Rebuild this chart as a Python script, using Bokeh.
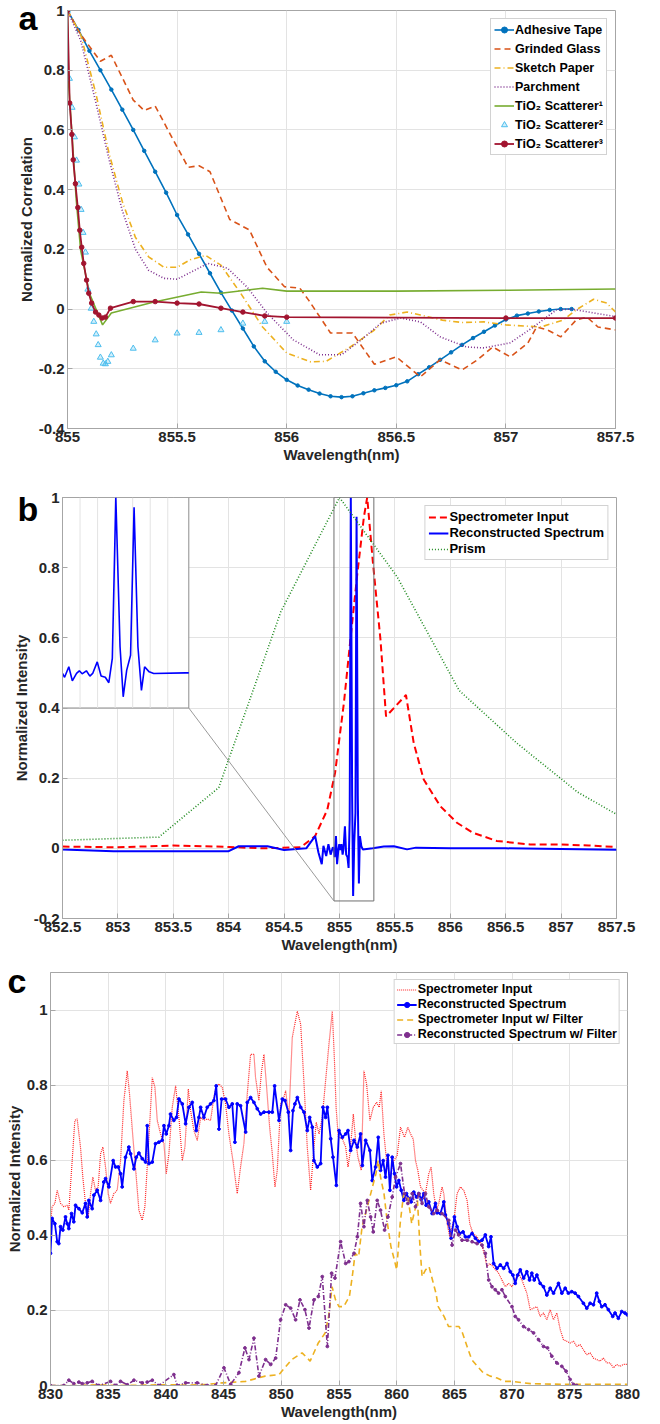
from bokeh.plotting import figure
from bokeh.models import Range1d, Legend, LegendItem, FixedTicker, CustomJSTickFormatter
from bokeh.layouts import column, row
from bokeh.embed import file_html
from bokeh.resources import INLINE

# ---------------------------------------------------------------- panel a data
TAPE_X = [855.00, 855.05, 855.10, 855.15, 855.20, 855.25, 855.30, 855.35, 855.40, 855.45,
          855.50, 855.55, 855.60, 855.65, 855.70, 855.75, 855.80, 855.85, 855.90, 855.95,
          856.00, 856.05, 856.10, 856.15, 856.20, 856.25, 856.30, 856.35, 856.40, 856.45,
          856.50, 856.55, 856.60, 856.65, 856.70, 856.75, 856.80, 856.85, 856.90, 856.95,
          857.00, 857.05, 857.10, 857.15, 857.20, 857.25, 857.30]
TAPE_Y = [1.000, 0.935, 0.865, 0.800, 0.735, 0.668, 0.600, 0.530, 0.460, 0.390,
          0.315, 0.250, 0.185, 0.120, 0.055, -0.005, -0.065, -0.125, -0.175, -0.210,
          -0.237, -0.256, -0.270, -0.283, -0.292, -0.295, -0.292, -0.282, -0.272, -0.264,
          -0.255, -0.242, -0.218, -0.195, -0.170, -0.145, -0.120, -0.097, -0.076, -0.055,
          -0.035, -0.022, -0.015, -0.008, -0.003, 0.000, 0.000]

GLASS_X = [855.00, 855.06, 855.15, 855.20, 855.30, 855.35, 855.40, 855.48, 855.55, 855.60,
           855.65, 855.74, 855.83, 855.91, 855.99, 856.06, 856.10, 856.20, 856.30, 856.40,
           856.50, 856.61, 856.70, 856.80, 856.87, 856.94, 857.02, 857.10, 857.14, 857.19,
           857.25, 857.32, 857.37, 857.42, 857.50]
GLASS_Y = [1.000, 0.920, 0.830, 0.850, 0.700, 0.665, 0.680, 0.570, 0.475, 0.480,
           0.460, 0.300, 0.265, 0.140, 0.075, 0.070, 0.030, -0.080, -0.080, -0.185,
           -0.160, -0.227, -0.170, -0.204, -0.170, -0.127, -0.160, -0.114, -0.060, -0.070,
           -0.093, -0.037, -0.027, -0.060, -0.070]

SKETCH_X = [855.00, 855.06, 855.13, 855.19, 855.25, 855.31, 855.37, 855.44, 855.50, 855.56,
            855.63, 855.70, 855.79, 855.89, 856.00, 856.11, 856.18, 856.29, 856.40, 856.47,
            856.55, 856.61, 856.71, 856.80, 856.90, 857.00, 857.16, 857.26, 857.32, 857.40,
            857.46, 857.50]
SKETCH_Y = [1.000, 0.920, 0.720, 0.520, 0.360, 0.240, 0.175, 0.140, 0.140, 0.165,
            0.180, 0.147, 0.053, -0.060, -0.147, -0.177, -0.175, -0.127, -0.070, -0.020,
            -0.010, -0.020, -0.037, -0.045, -0.043, -0.053, -0.060, -0.037, -0.003, 0.033,
            0.020, -0.010]

PARCH_X = [855.00, 855.06, 855.13, 855.19, 855.25, 855.31, 855.37, 855.44, 855.50, 855.58,
           855.64, 855.73, 855.82, 855.91, 856.03, 856.15, 856.25, 856.34, 856.43, 856.52,
           856.61, 856.70, 856.82, 856.90, 857.02, 857.12, 857.23, 857.30, 857.40, 857.50]
PARCH_Y = [1.000, 0.900, 0.690, 0.500, 0.330, 0.200, 0.130, 0.103, 0.100, 0.130,
           0.153, 0.137, 0.073, -0.013, -0.103, -0.153, -0.153, -0.103, -0.047, -0.030,
           -0.043, -0.093, -0.127, -0.130, -0.113, -0.063, -0.003, 0.000, -0.013, -0.025]

TIO1_X = [855.00, 855.005, 855.02, 855.04, 855.06, 855.10, 855.16, 855.20, 855.39, 855.61,
          855.70, 855.89, 856.00, 856.50, 857.00, 857.50]
TIO1_Y = [1.000, 0.755, 0.590, 0.365, 0.197, 0.053, -0.053, -0.013, 0.023, 0.057,
          0.053, 0.070, 0.060, 0.060, 0.063, 0.067]

TIO2_X = [855.000, 855.009, 855.021, 855.032, 855.041, 855.052, 855.062, 855.071, 855.082, 855.093,
          855.108, 855.120, 855.131, 855.140, 855.150, 855.163, 855.173, 855.184, 855.200, 855.300,
          855.400, 855.500, 855.600, 855.700, 855.800, 855.900, 856.000]
TIO2_Y = [1.000, 0.772, 0.675, 0.576, 0.498, 0.418, 0.333, 0.256, 0.190, 0.066,
          0.002, -0.042, -0.084, -0.120, -0.162, -0.182, -0.184, -0.176, -0.154, -0.132,
          -0.104, -0.081, -0.079, -0.070, -0.048, -0.042, -0.042]

TIO3_X = [855.000, 855.010, 855.020, 855.026, 855.036, 855.047, 855.056, 855.065, 855.074, 855.087,
          855.097, 855.110, 855.128, 855.143, 855.158, 855.173, 855.196, 855.300, 855.400, 855.500,
          855.600, 855.700, 855.800, 855.900, 856.000, 857.000, 857.500]
TIO3_Y = [1.000, 0.690, 0.585, 0.500, 0.420, 0.340, 0.264, 0.207, 0.153, 0.097,
          0.053, 0.020, -0.010, -0.020, -0.030, -0.027, 0.003, 0.025, 0.025, 0.020,
          0.017, 0.003, -0.010, -0.023, -0.027, -0.030, -0.030]

A_XTICKS = [855, 855.5, 856, 856.5, 857, 857.5]
A_YTICKS = [-0.4, -0.2, 0, 0.2, 0.4, 0.6, 0.8, 1]

# ---------------------------------------------------------------- panel b data
PRISM_X = [852.5, 853.37, 853.91, 854.47, 855.0, 855.52, 856.08, 856.6, 857.15, 857.5]
PRISM_Y = [0.023, 0.032, 0.173, 0.674, 1.000, 0.774, 0.450, 0.300, 0.160, 0.097]

SPEC_X = [852.50, 853.00, 853.50, 854.00, 854.30, 854.65, 854.78, 854.89, 854.96, 855.04,
          855.10, 855.16, 855.22, 855.25, 855.30, 855.37, 855.42, 855.60, 855.67, 855.76,
          855.91, 856.06, 856.20, 856.42, 856.72, 857.00, 857.25, 857.50]
SPEC_Y = [0.005, 0.003, 0.008, 0.004, 0.000, 0.003, 0.035, 0.110, 0.215, 0.415,
          0.600, 0.780, 0.944, 1.000, 0.820, 0.594, 0.376, 0.437, 0.300, 0.196,
          0.120, 0.073, 0.045, 0.021, 0.011, 0.011, 0.008, 0.004]

RECB_X = [852.500, 852.960, 853.500, 854.000, 854.090, 854.350, 854.500, 854.700, 854.780, 854.810,
          854.840, 854.855, 854.880, 854.900, 854.920, 854.940, 854.950, 854.956, 854.968, 854.978,
          854.990, 854.998, 855.006, 855.018, 855.028, 855.036, 855.049, 855.060, 855.072, 855.082,
          855.092, 855.102, 855.114, 855.123, 855.133, 855.144, 855.154, 855.165, 855.175, 855.184,
          855.197, 855.210, 855.300, 855.400, 855.490, 855.610, 855.690, 856.000, 856.500, 857.000,
          857.500]
RECB_Y = [-0.003, -0.008, -0.008, -0.008, 0.006, 0.006, -0.005, 0.000, 0.035, -0.012,
          -0.045, 0.007, -0.022, 0.012, -0.018, 0.003, -0.003, -0.025, 0.035, -0.045,
          -0.003, 0.012, -0.005, 0.012, -0.018, -0.003, 0.063, -0.018, -0.025, -0.056,
          0.083, 1.000, 0.149, -0.136, 0.016, 0.101, 0.945, 0.149, -0.100, 0.035,
          0.006, -0.003, 0.000, 0.005, 0.006, -0.003, 0.002, 0.000, 0.000, -0.002,
          -0.004]

B_XTICKS = [852.5, 853, 853.5, 854, 854.5, 855, 855.5, 856, 856.5, 857, 857.5]
B_YTICKS = [-0.2, 0, 0.2, 0.4, 0.6, 0.8, 1]
INSET_XTICKS = [855.0, 855.05, 855.1, 855.15, 855.2, 855.25]

# ---------------------------------------------------------------- panel c data
CREC_X = [830.00, 830.14, 830.38, 830.58, 830.72, 830.87, 831.07, 831.30, 831.45, 831.59,
          831.82, 832.02, 832.17, 832.46, 832.75, 833.03, 833.18, 833.32, 833.61, 833.76,
          834.05, 834.34, 834.62, 834.77, 835.06, 835.43, 835.64, 835.87, 836.07, 836.21,
          836.50, 836.79, 836.94, 837.23, 837.43, 837.66, 837.95, 838.24, 838.38, 838.53,
          838.82, 839.10, 839.39, 839.68, 839.83, 840.03, 840.26, 840.40, 840.69, 840.92,
          841.13, 841.42, 841.71, 841.99, 842.28, 842.63, 842.86, 843.01, 843.29, 843.58,
          843.87, 844.16, 844.36, 844.60, 844.83, 845.17, 845.46, 845.75, 845.98, 846.18,
          846.47, 846.91, 847.05, 847.34, 847.63, 847.92, 848.21, 848.50, 848.93, 849.22,
          849.42, 849.80, 850.09, 850.32, 850.61, 850.81, 851.01, 851.18, 851.39, 851.68,
          851.97, 852.25, 852.46, 852.69, 852.83, 853.12, 853.41, 853.61, 853.84, 853.99,
          854.28, 854.48, 854.77, 855.00, 855.29, 855.58, 855.78, 856.01, 856.30, 856.59,
          856.87, 857.02, 857.31, 857.68, 857.88, 858.17, 858.40, 858.60, 858.83, 859.03,
          859.24, 859.41, 859.61, 859.81, 859.99, 860.19, 860.39, 860.62, 860.85, 861.05,
          861.25, 861.48, 861.71, 861.92, 862.12, 862.35, 862.55, 862.78, 863.07, 863.36,
          863.50, 863.79, 864.08, 864.22, 864.51, 864.71, 865.00, 865.23, 865.46, 865.75,
          865.95, 866.24, 866.53, 866.82, 867.10, 867.39, 867.68, 867.97, 868.17, 868.40,
          868.69, 868.98, 869.27, 869.56, 869.84, 870.07, 870.27, 870.48, 870.71, 871.00,
          871.28, 871.51, 871.71, 871.92, 872.15, 872.43, 872.72, 873.01, 873.30, 873.59,
          874.02, 874.31, 874.60, 874.88, 875.17, 875.46, 875.75, 876.18, 876.47, 876.76,
          877.05, 877.33, 877.56, 877.77, 878.05, 878.34, 878.72, 878.92, 879.21, 879.50,
          879.78, 879.99]
CREC_Y = [0.352, 0.445, 0.431, 0.383, 0.378, 0.423, 0.414, 0.449, 0.431, 0.418,
          0.458, 0.436, 0.480, 0.471, 0.460, 0.485, 0.449, 0.493, 0.471, 0.507,
          0.520, 0.493, 0.542, 0.551, 0.529, 0.599, 0.582, 0.582, 0.564, 0.529,
          0.608, 0.635, 0.617, 0.577, 0.608, 0.619, 0.604, 0.595, 0.692, 0.591,
          0.595, 0.644, 0.648, 0.653, 0.692, 0.670, 0.692, 0.723, 0.706, 0.714,
          0.763, 0.750, 0.697, 0.741, 0.754, 0.679, 0.714, 0.741, 0.714, 0.741,
          0.750, 0.759, 0.798, 0.683, 0.763, 0.763, 0.741, 0.750, 0.648, 0.750,
          0.745, 0.675, 0.754, 0.767, 0.754, 0.737, 0.723, 0.728, 0.728, 0.728,
          0.798, 0.706, 0.763, 0.759, 0.728, 0.626, 0.732, 0.750, 0.767, 0.741,
          0.728, 0.679, 0.714, 0.688, 0.599, 0.582, 0.591, 0.741, 0.714, 0.741,
          0.657, 0.608, 0.533, 0.679, 0.661, 0.670, 0.679, 0.626, 0.653, 0.635,
          0.670, 0.586, 0.653, 0.626, 0.546, 0.582, 0.661, 0.573, 0.599, 0.555,
          0.613, 0.520, 0.608, 0.564, 0.529, 0.546, 0.520, 0.493, 0.511, 0.498,
          0.489, 0.515, 0.502, 0.511, 0.495, 0.511, 0.480, 0.489, 0.458, 0.485,
          0.460, 0.458, 0.489, 0.454, 0.431, 0.392, 0.449, 0.423, 0.405, 0.409,
          0.396, 0.396, 0.405, 0.392, 0.383, 0.387, 0.401, 0.370, 0.396, 0.325,
          0.312, 0.321, 0.312, 0.325, 0.303, 0.294, 0.272, 0.294, 0.308, 0.286,
          0.303, 0.281, 0.299, 0.281, 0.294, 0.272, 0.263, 0.241, 0.259, 0.246,
          0.272, 0.246, 0.259, 0.246, 0.250, 0.246, 0.237, 0.219, 0.206, 0.219,
          0.215, 0.246, 0.224, 0.210, 0.215, 0.202, 0.184, 0.193, 0.179, 0.197,
          0.193, 0.188]

CIN_X = [830.00, 830.14, 830.38, 830.58, 830.87, 831.16, 831.45, 831.59, 831.88, 832.11,
         832.31, 832.60, 832.80, 833.03, 833.27, 833.47, 833.67, 833.90, 834.13, 834.34,
         834.54, 834.77, 835.00, 835.20, 835.49, 835.78, 836.07, 836.36, 836.65, 836.85,
         837.14, 837.43, 837.66, 837.95, 838.18, 838.38, 838.58, 838.82, 839.05, 839.25,
         839.54, 839.83, 840.03, 840.26, 840.55, 840.84, 841.13, 841.42, 841.65, 841.94,
         842.14, 842.43, 842.72, 843.01, 843.29, 843.58, 843.87, 844.16, 844.36, 844.60,
         844.88, 845.17, 845.46, 845.81, 846.18, 846.47, 846.76, 847.05, 847.34, 847.63,
         847.77, 848.06, 848.29, 848.50, 848.73, 848.99, 849.22, 849.45, 849.65, 849.94,
         850.14, 850.38, 850.66, 850.95, 851.39, 851.68, 851.97, 852.25, 852.54, 852.83,
         853.03, 853.27, 853.55, 853.84, 854.13, 854.42, 854.60, 854.75, 854.94, 855.29,
         855.58, 855.78, 855.95, 856.24, 856.44, 856.64, 856.93, 857.16, 857.39, 857.68,
         857.97, 858.26, 858.49, 858.66, 858.89, 859.12, 859.41, 859.76, 860.04, 860.33,
         860.68, 860.97, 861.20, 861.43, 861.63, 861.83, 862.06, 862.29, 862.49, 862.78,
         862.98, 863.21, 863.44, 863.65, 863.93, 864.08, 864.37, 864.60, 864.80, 865.00,
         865.23, 865.52, 865.81, 866.10, 866.33, 866.61, 866.96, 867.31, 867.59, 867.82,
         868.05, 868.34, 868.83, 869.12, 869.41, 869.70, 869.99, 870.27, 870.56, 870.85,
         871.28, 871.57, 871.86, 872.15, 872.43, 872.72, 873.01, 873.30, 873.59, 873.88,
         874.17, 874.45, 874.74, 875.03, 875.32, 875.61, 875.89, 876.18, 876.47, 876.76,
         877.05, 877.33, 877.62, 877.91, 878.20, 878.49, 878.78, 879.06, 879.35, 879.64,
         879.99]
CIN_Y = [0.431, 0.476, 0.485, 0.520, 0.485, 0.476, 0.480, 0.467, 0.599, 0.706,
         0.710, 0.635, 0.555, 0.485, 0.449, 0.511, 0.555, 0.520, 0.529, 0.617,
         0.635, 0.582, 0.511, 0.485, 0.511, 0.520, 0.599, 0.759, 0.838, 0.776,
         0.661, 0.555, 0.467, 0.440, 0.476, 0.582, 0.688, 0.820, 0.794, 0.706,
         0.670, 0.644, 0.564, 0.617, 0.741, 0.798, 0.714, 0.599, 0.635, 0.790,
         0.732, 0.679, 0.653, 0.714, 0.706, 0.710, 0.706, 0.767, 0.798, 0.803,
         0.794, 0.750, 0.670, 0.599, 0.511, 0.582, 0.644, 0.776, 0.882, 0.882,
         0.820, 0.759, 0.838, 0.882, 0.794, 0.688, 0.617, 0.529, 0.573, 0.750,
         0.759, 0.785, 0.714, 0.927, 0.997, 0.962, 0.803, 0.635, 0.520, 0.635,
         0.701, 0.670, 0.714, 0.812, 0.909, 0.997, 0.870, 0.740, 0.661, 0.657,
         0.635, 0.582, 0.617, 0.723, 0.653, 0.608, 0.573, 0.838, 0.803, 0.706,
         0.741, 0.754, 0.741, 0.785, 0.670, 0.599, 0.555, 0.599, 0.613, 0.688,
         0.661, 0.688, 0.670, 0.657, 0.599, 0.573, 0.529, 0.520, 0.511, 0.564,
         0.582, 0.511, 0.467, 0.485, 0.529, 0.511, 0.431, 0.396, 0.423, 0.449,
         0.511, 0.529, 0.520, 0.493, 0.431, 0.405, 0.396, 0.378, 0.352, 0.317,
         0.325, 0.317, 0.299, 0.281, 0.263, 0.272, 0.263, 0.281, 0.299, 0.281,
         0.246, 0.202, 0.206, 0.210, 0.184, 0.193, 0.175, 0.202, 0.175, 0.193,
         0.149, 0.122, 0.118, 0.113, 0.118, 0.104, 0.109, 0.095, 0.082, 0.087,
         0.073, 0.069, 0.065, 0.073, 0.060, 0.060, 0.047, 0.056, 0.051, 0.056,
         0.056]

CINF_X = [830.0, 832.0, 834.0, 836.0, 838.0, 840.0, 842.0, 843.5, 844.9, 846.9,
          848.6, 849.8, 850.9, 851.8, 852.5, 853.2, 853.8, 854.1, 854.4, 854.7,
          855.0, 855.4, 855.9, 856.15, 856.4, 856.7, 857.0, 857.3, 857.6, 857.9,
          858.2, 858.4, 858.6, 858.9, 859.2, 859.5, 859.8, 860.0, 860.3, 860.6,
          860.97, 861.3, 861.5, 861.8, 862.0, 862.2, 862.5, 862.8, 863.1, 863.4,
          863.6, 864.1, 864.5, 864.9, 865.4, 865.7, 866.1, 866.5, 867.0, 867.5,
          868.1, 868.7, 869.3, 870.0, 871.6, 874.5, 877.3, 880.0]
CINF_Y = [0.000, 0.000, 0.002, 0.000, 0.001, 0.002, 0.001, 0.003, 0.007, 0.011,
          0.025, 0.029, 0.069, 0.087, 0.065, 0.113, 0.140, 0.184, 0.263, 0.228,
          0.210, 0.210, 0.237, 0.290, 0.352, 0.343, 0.423, 0.458, 0.493, 0.529,
          0.564, 0.600, 0.555, 0.511, 0.431, 0.370, 0.334, 0.308, 0.431, 0.511,
          0.502, 0.431, 0.458, 0.493, 0.378, 0.290, 0.308, 0.317, 0.281, 0.246,
          0.210, 0.184, 0.157, 0.157, 0.157, 0.140, 0.104, 0.069, 0.051, 0.034,
          0.025, 0.020, 0.011, 0.011, 0.005, 0.003, 0.003, 0.003]

CRECF_X = [830.00, 831.16, 831.59, 832.02, 832.46, 832.75, 833.18, 833.61, 834.19, 835.20,
           835.64, 836.07, 836.65, 837.23, 837.95, 838.38, 838.82, 839.39, 840.69, 840.98,
           841.71, 842.72, 843.58, 844.31, 845.03, 845.61, 846.33, 846.85, 847.20, 847.63,
           848.06, 848.64, 849.08, 849.51, 849.94, 850.38, 850.81, 851.24, 851.62, 852.05,
           852.40, 852.83, 853.21, 853.55, 853.99, 854.36, 854.65, 855.14, 855.58, 855.86,
           856.30, 856.59, 856.87, 857.16, 857.45, 857.74, 857.97, 858.31, 858.60, 858.95,
           859.24, 859.61, 859.90, 860.33, 860.68, 860.97, 861.34, 861.63, 861.92, 862.20,
           862.49, 862.78, 863.21, 863.50, 863.93, 864.51, 864.80, 865.09, 865.37, 865.66,
           866.10, 866.53, 866.96, 867.39, 867.68, 867.97, 868.26, 868.54, 868.83, 869.12,
           869.41, 869.99, 870.27, 870.56, 870.99, 871.43, 871.86, 872.29, 872.72, 873.07,
           873.44, 873.88, 874.31, 874.68, 875.03, 875.32, 875.61]
CRECF_Y = [0.000, 0.000, 0.014, 0.005, 0.009, 0.005, 0.007, 0.011, 0.000, 0.011,
           0.000, 0.011, 0.002, 0.014, 0.007, 0.009, 0.014, 0.000, 0.029, 0.000,
           0.007, 0.007, 0.000, 0.000, 0.047, 0.003, 0.034, 0.100, 0.069, 0.126,
           0.025, 0.069, 0.056, 0.073, 0.175, 0.215, 0.206, 0.175, 0.228, 0.202,
           0.153, 0.228, 0.237, 0.290, 0.104, 0.299, 0.286, 0.383, 0.325, 0.330,
           0.352, 0.396, 0.485, 0.423, 0.493, 0.449, 0.409, 0.493, 0.467, 0.414,
           0.449, 0.502, 0.555, 0.591, 0.511, 0.485, 0.511, 0.476, 0.511, 0.485,
           0.511, 0.476, 0.458, 0.467, 0.458, 0.440, 0.374, 0.414, 0.401, 0.387,
           0.387, 0.383, 0.378, 0.374, 0.352, 0.281, 0.263, 0.255, 0.246, 0.255,
           0.237, 0.210, 0.184, 0.175, 0.157, 0.149, 0.140, 0.122, 0.104, 0.100,
           0.078, 0.060, 0.051, 0.038, 0.016, 0.003, 0.000]

C_XTICKS = [830, 835, 840, 845, 850, 855, 860, 865, 870, 875, 880]
C_YTICKS = [0, 0.2, 0.4, 0.6, 0.8, 1]

# ---------------------------------------------------------------- styling
FONT = "Liberation Sans"
INK = "#262626"
GRID = "#e3e3e3"
BOX = "#a6a6a6"
FMT = CustomJSTickFormatter(code="return String(+tick.toFixed(2));")


def make_fig(xr, yr, height, left, right, top, bottom):
    p = figure(width=660, height=height, x_range=Range1d(*xr), y_range=Range1d(*yr),
               output_backend="svg", toolbar_location=None,
               min_border_left=left, min_border_right=right,
               min_border_top=top, min_border_bottom=bottom)
    p.outline_line_color = BOX
    p.outline_line_width = 1
    p.background_fill_color = "white"
    p.border_fill_color = "white"
    return p


def style_axes(p, xticks, yticks, xlabel, ylabel):
    xt = FixedTicker(ticks=xticks)
    yt = FixedTicker(ticks=yticks)
    p.xaxis.ticker = xt
    p.yaxis.ticker = yt
    p.xgrid.ticker = xt
    p.ygrid.ticker = yt
    p.grid.grid_line_color = GRID
    p.grid.grid_line_width = 1
    p.xaxis.axis_label = xlabel
    p.yaxis.axis_label = ylabel
    for ax in list(p.xaxis) + list(p.yaxis):
        ax.formatter = FMT
        ax.major_label_text_font = FONT
        ax.major_label_text_font_style = "bold"
        ax.major_label_text_font_size = "15px"
        ax.major_label_text_color = INK
        ax.axis_label_text_font = FONT
        ax.axis_label_text_font_style = "bold"
        ax.axis_label_text_font_size = "15px"
        ax.axis_label_text_color = INK
        ax.axis_line_color = BOX
        ax.major_tick_in = 5
        ax.major_tick_out = 0
        ax.major_tick_line_color = BOX
        ax.minor_tick_line_color = None
        ax.major_label_standoff = 3
        ax.axis_label_standoff = 1


def add_legend(p, items, font_size, label_h, spacing, padding, margin):
    leg = Legend(items=[LegendItem(label=t, renderers=r) for t, r in items],
                 location="top_right")
    leg.label_text_font = FONT
    leg.label_text_font_style = "bold"
    leg.label_text_font_size = font_size
    leg.label_text_color = "black"
    leg.label_height = label_h
    leg.glyph_height = label_h
    leg.glyph_width = 20
    leg.label_standoff = 1
    leg.spacing = spacing
    leg.padding = padding
    leg.margin = margin
    leg.border_line_color = BOX
    leg.border_line_width = 1
    leg.background_fill_color = "white"
    leg.background_fill_alpha = 1.0
    p.add_layout(leg)


def panel_letter(p, text, dx, standoff):
    # the figure title carries the panel letter; a negative standoff lets it
    # sit beside the top of the frame instead of above it
    p.title.text = text
    p.title.align = "left"
    p.title.vertical_align = "bottom"
    p.title.offset = dx
    p.title.standoff = standoff
    p.title.text_font = FONT
    p.title.text_font_style = "bold"
    p.title.text_font_size = "34px"
    p.title.text_color = "black"


# ---------------------------------------------------------------- panel a
AX = (855, 857.5)
AY = (-0.4, 1.0)
pa = make_fig(AX, AY, 465, 67, 45, 10, 36)
style_axes(pa, A_XTICKS, A_YTICKS, "Wavelength(nm)", "Normalized Correlation")

ra1 = pa.line(TAPE_X, TAPE_Y, color="#0072BD", line_width=1.6)
ra1m = pa.scatter(TAPE_X, TAPE_Y, marker="circle", size=3.5, color="#0072BD")
ra2 = pa.line(GLASS_X, GLASS_Y, color="#D95319", line_width=1.6, line_dash="6 4")
ra3 = pa.line(SKETCH_X, SKETCH_Y, color="#EDB120", line_width=1.6, line_dash="6 3 1 3")
ra4 = pa.line(PARCH_X, PARCH_Y, color="#7E2F8E", line_width=1.6, line_dash="1 2")
ra5 = pa.line(TIO1_X, TIO1_Y, color="#77AC30", line_width=1.6)
ra6 = pa.scatter(TIO2_X, TIO2_Y, marker="triangle", size=6, line_color="#4DBEEE",
                 fill_color="#4DBEEE", fill_alpha=0.25, line_width=1)
ra7 = pa.line(TIO3_X, TIO3_Y, color="#A2142F", line_width=1.8)
ra7m = pa.scatter(TIO3_X, TIO3_Y, marker="circle", size=4.5, color="#A2142F")

add_legend(pa, [("Adhesive Tape", [ra1, ra1m]),
                ("Grinded Glass", [ra2]),
                ("Sketch Paper", [ra3]),
                ("Parchment", [ra4]),
                ("TiO\u2082 Scatterer\u00b9", [ra5]),
                ("TiO\u2082 Scatterer\u00b2", [ra6]),
                ("TiO\u2082 Scatterer\u00b3", [ra7, ra7m])],
           "12.5px", 15, 4, 3, 8)
panel_letter(pa, "a", -49, -52)

# ---------------------------------------------------------------- panel b
BX = (852.5, 857.5)
BY = (-0.2, 1.0)
INSET_X = (852.5, 853.64)     # where the inset sits, in main-axis units
INSET_Y = (0.4, 1.0)
ZOOM_X = (854.95, 855.31)     # wavelength window shown in the inset
ZOOM_BOX_Y = (-0.15, 1.0)     # marker rectangle in the main axes
INSET_VIEW_Y = (-0.2, 1.0)    # inset y-limits

pb = make_fig(BX, BY, 490, 62, 44, 32, 36)
style_axes(pb, B_XTICKS, B_YTICKS, "Wavelength(nm)", "Normalized Intensity")

fx0 = (INSET_X[0] - BX[0]) / (BX[1] - BX[0])
fx1 = (INSET_X[1] - BX[0]) / (BX[1] - BX[0])
sx = (ZOOM_X[1] - ZOOM_X[0]) / (fx1 - fx0)
ix0 = ZOOM_X[0] - fx0 * sx
fy0 = (INSET_Y[0] - BY[0]) / (BY[1] - BY[0])
fy1 = (INSET_Y[1] - BY[0]) / (BY[1] - BY[0])
sy = (INSET_VIEW_Y[1] - INSET_VIEW_Y[0]) / (fy1 - fy0)
iy0 = INSET_VIEW_Y[0] - fy0 * sy
pb.extra_x_ranges = {"inset": Range1d(ix0, ix0 + sx)}
pb.extra_y_ranges = {"inset": Range1d(iy0, iy0 + sy)}

rb1 = pb.line(SPEC_X, SPEC_Y, color="#FF0000", line_width=2, line_dash="7 4")
rb2 = pb.line(RECB_X, RECB_Y, color="#0000FF", line_width=2)
rb3 = pb.line(PRISM_X, PRISM_Y, color="#1F8A1F", line_width=1.6, line_dash="1 2")

pb.quad(left=ZOOM_X[0], right=ZOOM_X[1], bottom=ZOOM_BOX_Y[0], top=ZOOM_BOX_Y[1],
        fill_color=None, line_color="#6e6e6e", line_width=1)
pb.line([INSET_X[1], ZOOM_X[0]], [INSET_Y[0], ZOOM_BOX_Y[0]], color="#9a9a9a", line_width=1)

pb.quad(left=INSET_X[0], right=INSET_X[1], bottom=INSET_Y[0], top=INSET_Y[1],
        fill_color="white", line_color="#8c8c8c", line_width=1)
pb.segment(x0=INSET_XTICKS, y0=[INSET_VIEW_Y[0]] * len(INSET_XTICKS),
           x1=INSET_XTICKS, y1=[INSET_VIEW_Y[1]] * len(INSET_XTICKS),
           x_range_name="inset", y_range_name="inset", line_color=GRID, line_width=1)
ins_x = [x for x in RECB_X if ZOOM_X[0] <= x <= ZOOM_X[1]]
ins_y = [y for x, y in zip(RECB_X, RECB_Y) if ZOOM_X[0] <= x <= ZOOM_X[1]]
ins_x = ins_x + [ZOOM_X[1]]
ins_y = ins_y + [ins_y[-1]]
pb.line(ins_x, ins_y, x_range_name="inset", y_range_name="inset",
        color="#0000FF", line_width=1.6)

add_legend(pb, [("Spectrometer Input", [rb1]),
                ("Reconstructed Spectrum", [rb2]),
                ("Prism", [rb3])],
           "13px", 14, 1, 3, 8)
panel_letter(pb, "b", -45, -60)

# ---------------------------------------------------------------- panel c
CX = (830, 880)
CY = (0, 1.1)
pc = make_fig(CX, CY, 467, 50, 33, 17, 36)
style_axes(pc, C_XTICKS, C_YTICKS, "Wavelength(nm)", "Normalized Intensity")

rc1 = pc.line(CIN_X, CIN_Y, color="#FF2020", line_width=1.2, line_dash="1 1")
rc2 = pc.line(CREC_X, CREC_Y, color="#0000FF", line_width=1.8)
rc2m = pc.scatter(CREC_X, CREC_Y, marker="circle", size=2.8, color="#0000FF")
rc3 = pc.line(CINF_X, CINF_Y, color="#EDB120", line_width=1.6, line_dash="6 4")
rc4 = pc.line(CRECF_X, CRECF_Y, color="#7E2F8E", line_width=1.6, line_dash="5 2 1 2")
rc4m = pc.scatter(CRECF_X, CRECF_Y, marker="circle", size=2.8, color="#7E2F8E")

add_legend(pc, [("Spectrometer Input", [rc1]),
                ("Reconstructed Spectrum", [rc2, rc2m]),
                ("Spectrometer Input w/ Filter", [rc3]),
                ("Reconstructed Spectrum w/ Filter", [rc4, rc4m])],
           "12.5px", 13, 1, 2, 7)
panel_letter(pc, "c", -43, -54)

# each figure in its own row so the column does not align their frames
layout = column(row(pa), row(pb), row(pc), spacing=0)
open("out.html", "w").write(file_html(layout, INLINE))
